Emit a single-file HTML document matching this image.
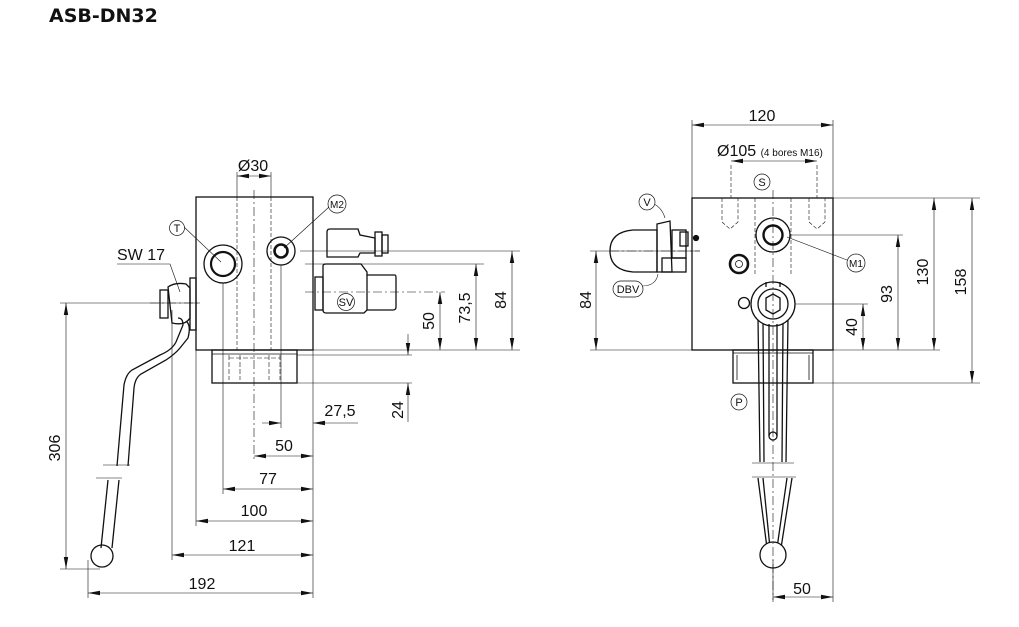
<!DOCTYPE html>
<html><head><meta charset="utf-8"><style>
html,body{margin:0;padding:0;background:#fff;width:1019px;height:627px;overflow:hidden}
svg{display:block}
text{font-family:"Liberation Sans",Arial,sans-serif;fill:#111}
</style></head><body>
<svg width="1019" height="627" viewBox="0 0 1019 627" xmlns="http://www.w3.org/2000/svg">
<defs>
<marker id="a" markerWidth="12" markerHeight="6" refX="12" refY="3" orient="auto-start-reverse" markerUnits="userSpaceOnUse"><path d="M0,0.8 L12,3 L0,5.2 Z" fill="#111"/></marker>
</defs>
<text x="49" y="22" font-size="19" font-weight="bold" style="font-family:'DejaVu Sans','Liberation Sans',sans-serif">ASB-DN32</text>

<g stroke="#111" fill="none" stroke-width="1.3">
<!-- LEFT VIEW -->
<rect x="196" y="197" width="117" height="153" fill="#fff"/>
<rect x="212" y="350" width="85" height="33"/>
<line x1="212" y1="354" x2="297" y2="354" stroke-width="0.8"/>
<g stroke-width="0.6" stroke-dasharray="5,2"><line x1="229" y1="355" x2="229" y2="380"/><line x1="240" y1="355" x2="240" y2="380"/><line x1="269" y1="355" x2="269" y2="380"/><line x1="280" y1="355" x2="280" y2="380"/><line x1="229" y1="358" x2="280" y2="358"/></g>
<circle cx="223" cy="264" r="19"/><circle cx="223" cy="264" r="12" stroke-width="2.2"/>
<circle cx="281" cy="251" r="14"/><circle cx="281" cy="251" r="6.5" stroke-width="2.6"/>
<!-- solenoid -->
<path d="M327,232 Q327,229 330,229 L358,229 L360,235 L375,238 L375,253 L360,253 L358,257 L327,257 Z"/>
<rect x="375" y="232" width="7" height="24"/><rect x="382" y="235" width="6" height="18"/>
<path d="M323,266 Q323,264 326,264 L361,264 L367,272 L367,275 L395,275 Q396,275 396,278 L396,307 Q396,310 393,310 L367,310 L364,313 L326,313 Q323,313 323,310 Z"/>
<line x1="367" y1="275" x2="367" y2="310"/>
<rect x="315" y="277" width="8" height="33"/>
<!-- handle -->
<rect x="190" y="278" width="6" height="52"/>
<path d="M168,287 Q175,282 186,284 L190,288 L190,318 Q185,326 172,323 Z"/>
<rect x="160" y="290" width="8" height="28"/>
<path d="M178,318 Q183,318 183,325 L176,342 Q172,350 160,355 L132,370 Q126,374 124,385 L117,466 M187,322 Q191,326 188,338 L180,348 Q175,354 166,360 L141,374 Q135,378 134,388 L128,466"/>
<path d="M108,480 L101,548 M119,480 L112,548"/>
<circle cx="102" cy="556" r="11"/>
<!-- RIGHT VIEW -->
<rect x="692" y="198" width="141" height="152" fill="#fff"/>
<rect x="733" y="350" width="80" height="33"/>
<line x1="733" y1="353" x2="813" y2="353" stroke-width="0.8"/>
<line x1="737" y1="355" x2="737" y2="380" stroke-width="0.8"/><line x1="809" y1="355" x2="809" y2="380" stroke-width="0.8"/>
<circle cx="773" cy="235" r="17"/><circle cx="773" cy="235" r="9.5" stroke-width="2.4"/>
<circle cx="739" cy="264" r="9" stroke-width="2.6"/><circle cx="739" cy="264" r="3.5" stroke-width="0.8"/>
<!-- lever -->
<path d="M758,318 L760,462 M788,318 L786,462 M763,322 L764,462 M783,322 L782,462" fill="#fff"/>
<path d="M758,478 L767,548 M792,478 L781,548 M763,478 L770,548 M787,478 L777,548"/>
<circle cx="773" cy="304" r="22" fill="#fff"/>
<path d="M766,282 L766,287 M780,282 L780,287"/>
<circle cx="773" cy="304" r="15"/>
<path d="M766,298 L773,294 L780,298 L780,310 L773,314 L766,310 Z"/>
<circle cx="744" cy="303" r="5.5" fill="#fff"/>
<path d="M769,324 L769,436 M777,324 L777,436"/>
<circle cx="773" cy="436" r="4" fill="#fff"/>
<circle cx="773" cy="555" r="13" fill="#fff"/>
<!-- DBV -->
<path d="M657,230 L633,230 Q610,232 610,251 Q610,270 633,272 L657,272 Z"/>
<path d="M657,224 L670,221 L672,272 L657,272 Z"/>
<rect x="662" y="258" width="24" height="14"/>
<rect x="672" y="230" width="14" height="28"/>
<rect x="680" y="232" width="8" height="14"/>
<circle cx="696" cy="238" r="2.5" fill="#111"/>
</g>

<g stroke="#111" fill="none" stroke-width="0.6">
<line x1="237" y1="172" x2="237" y2="197"/><line x1="271" y1="172" x2="271" y2="197"/>
<line x1="237" y1="176" x2="271" y2="176" marker-start="url(#a)" marker-end="url(#a)"/>
<line x1="300" y1="251" x2="520" y2="251"/>
<line x1="305" y1="264" x2="484" y2="264"/>
<line x1="313" y1="350" x2="520" y2="350"/>
<line x1="297" y1="355" x2="412" y2="355"/>
<line x1="297" y1="383" x2="412" y2="383"/>
<line x1="512" y1="251" x2="512" y2="350" marker-start="url(#a)" marker-end="url(#a)"/>
<line x1="476" y1="264" x2="476" y2="350" marker-start="url(#a)" marker-end="url(#a)"/>
<line x1="440" y1="292" x2="440" y2="350" marker-start="url(#a)" marker-end="url(#a)"/>
<line x1="408" y1="334" x2="408" y2="355" marker-end="url(#a)"/>
<line x1="408" y1="422" x2="408" y2="383" marker-end="url(#a)"/>
<line x1="313" y1="350" x2="313" y2="598"/>
<line x1="223" y1="283" x2="223" y2="494"/>
<line x1="281" y1="265" x2="281" y2="428"/>
<line x1="196" y1="350" x2="196" y2="526"/>
<line x1="172" y1="310" x2="172" y2="560"/>
<line x1="88" y1="560" x2="88" y2="598"/>
<line x1="262" y1="423" x2="281" y2="423" marker-end="url(#a)"/>
<line x1="358" y1="423" x2="313" y2="423" marker-end="url(#a)"/>
<line x1="254" y1="456" x2="313" y2="456" marker-start="url(#a)" marker-end="url(#a)"/>
<line x1="223" y1="489" x2="313" y2="489" marker-start="url(#a)" marker-end="url(#a)"/>
<line x1="196" y1="521" x2="313" y2="521" marker-start="url(#a)" marker-end="url(#a)"/>
<line x1="172" y1="555" x2="313" y2="555" marker-start="url(#a)" marker-end="url(#a)"/>
<line x1="88" y1="593" x2="313" y2="593" marker-start="url(#a)" marker-end="url(#a)"/>
<line x1="60" y1="303" x2="200" y2="303"/>
<line x1="60" y1="569" x2="100" y2="569"/>
<line x1="66" y1="303" x2="66" y2="569" marker-start="url(#a)" marker-end="url(#a)"/>
<line x1="117" y1="264" x2="170" y2="264"/><line x1="170" y1="264" x2="180" y2="292"/>
<line x1="103" y1="465" x2="130" y2="465"/><line x1="96" y1="478" x2="122" y2="478"/>
<line x1="184" y1="227" x2="221" y2="262"/>
<line x1="329" y1="207" x2="284" y2="248"/>
<line x1="692" y1="120" x2="692" y2="198"/><line x1="833" y1="120" x2="833" y2="602"/>
<line x1="692" y1="125" x2="833" y2="125" marker-start="url(#a)" marker-end="url(#a)"/>
<line x1="731" y1="161" x2="817" y2="161" marker-start="url(#a)" marker-end="url(#a)"/>
<line x1="833" y1="198" x2="980" y2="198"/>
<line x1="790" y1="235" x2="903" y2="235"/>
<line x1="795" y1="304" x2="868" y2="304"/>
<line x1="833" y1="350" x2="940" y2="350"/>
<line x1="813" y1="383" x2="980" y2="383"/>
<line x1="898" y1="235" x2="898" y2="350" marker-start="url(#a)" marker-end="url(#a)"/>
<line x1="934" y1="198" x2="934" y2="350" marker-start="url(#a)" marker-end="url(#a)"/>
<line x1="972" y1="198" x2="972" y2="383" marker-start="url(#a)" marker-end="url(#a)"/>
<line x1="863" y1="304" x2="863" y2="350" marker-start="url(#a)" marker-end="url(#a)"/>
<line x1="590" y1="251" x2="700" y2="251"/>
<line x1="590" y1="350" x2="692" y2="350"/>
<line x1="596" y1="251" x2="596" y2="350" marker-start="url(#a)" marker-end="url(#a)"/>
<line x1="773" y1="560" x2="773" y2="602"/>
<line x1="773" y1="597" x2="833" y2="597" marker-start="url(#a)" marker-end="url(#a)"/>
<line x1="752" y1="463" x2="794" y2="463"/><line x1="752" y1="477" x2="796" y2="477"/>
<line x1="787" y1="237" x2="847" y2="260"/>
<path d="M654,204 Q662,208 665,218"/><path d="M642,286 Q656,286 658,274"/>
</g>
<g stroke="#111" fill="none" stroke-width="0.6" stroke-dasharray="9,3,2,3">
<line x1="254" y1="190" x2="254" y2="460"/>
<line x1="773" y1="190" x2="773" y2="600"/>
<line x1="610" y1="251" x2="700" y2="251"/>
<line x1="305" y1="292" x2="445" y2="292"/>
<line x1="150" y1="303" x2="200" y2="303"/>
</g>
<g stroke="#111" fill="none" stroke-width="0.6" stroke-dasharray="4,2">
<line x1="237" y1="197" x2="237" y2="350"/><line x1="271" y1="197" x2="271" y2="350"/>
<line x1="755" y1="198" x2="755" y2="275"/><line x1="791" y1="198" x2="791" y2="275"/>
<path d="M722,198 L722,222 L730,229 L738,222 L738,198 M809,198 L809,222 L817,229 L825,222 L825,198"/>
<line x1="731" y1="165" x2="731" y2="198"/><line x1="817" y1="165" x2="817" y2="198"/>
</g>
<g stroke="#111" fill="#fff" stroke-width="0.7">
<circle cx="177" cy="228" r="7.5"/><circle cx="337" cy="204" r="9"/><circle cx="346" cy="302" r="8.5"/>
<circle cx="762" cy="182" r="8"/><circle cx="647" cy="202" r="8"/><circle cx="856" cy="263" r="9"/>
<circle cx="739" cy="402" r="8"/><rect x="613" y="281" width="30" height="16" rx="8"/>
</g>
<g font-size="11" text-anchor="middle">
<text x="177" y="232">T</text><text x="337" y="208" font-size="10">M2</text><text x="346" y="306">SV</text>
<text x="762" y="186">S</text><text x="647" y="206">V</text><text x="856" y="267" font-size="10">M1</text>
<text x="739" y="406">P</text><text x="628" y="293">DBV</text>
</g>
<g font-size="16" text-anchor="middle">
<text x="253" y="171">Ø30</text>
<text x="141" y="260">SW 17</text>
<text x="340" y="416">27,5</text>
<text x="284" y="451">50</text>
<text x="268" y="484">77</text>
<text x="254" y="516">100</text>
<text x="242" y="551">121</text>
<text x="202" y="589">192</text>
<text x="762" y="121">120</text>
<text x="802" y="594">50</text>
</g>
<text x="717" y="156" font-size="16">Ø105 <tspan font-size="10">(4 bores M16)</tspan></text>
<g font-size="16" text-anchor="middle">
<text transform="translate(506,300) rotate(-90)">84</text>
<text transform="translate(470,308) rotate(-90)">73,5</text>
<text transform="translate(434,321) rotate(-90)">50</text>
<text transform="translate(403,410) rotate(-90)">24</text>
<text transform="translate(60,448) rotate(-90)">306</text>
<text transform="translate(591,300) rotate(-90)">84</text>
<text transform="translate(892,294) rotate(-90)">93</text>
<text transform="translate(928,272) rotate(-90)">130</text>
<text transform="translate(966,282) rotate(-90)">158</text>
<text transform="translate(857,327) rotate(-90)">40</text>
</g>
</svg>
</body></html>
